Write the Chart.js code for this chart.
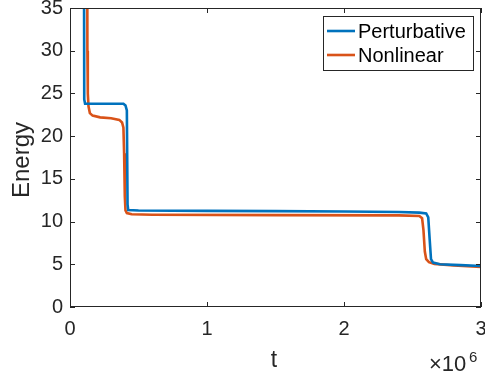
<!DOCTYPE html>
<html>
<head>
<meta charset="utf-8">
<script src="https://cdn.jsdelivr.net/npm/chart.js@4.4.1/dist/chart.umd.min.js"></script>
<style>
  html, body { margin: 0; padding: 0; background: #fff; }
  canvas { display: block; }
</style>
</head>
<body>
<canvas id="chart" width="485" height="381"></canvas>
<script>
// values (t in units of 1, energy)
const tPerturbative = [100000, 104000, 110000, 390000, 405000, 415000, 420000, 425000, 500000, 1000000, 1500000, 2000000, 2400000, 2550000, 2600000, 2615000, 2625000, 2635000, 2650000, 2700000, 2850000, 3000000];
const ePerturbative = [60, 24.3, 23.8, 23.8, 23.6, 23.0, 12.0, 11.35, 11.3, 11.25, 11.22, 11.18, 11.12, 11.05, 10.95, 10.5, 8.0, 5.6, 5.2, 5.0, 4.9, 4.8];

const tNonlinear = [124000, 127000, 130000, 135000, 145000, 165000, 220000, 300000, 360000, 380000, 390000, 395000, 400000, 405000, 415000, 450000, 600000, 1500000, 2400000, 2550000, 2570000, 2580000, 2590000, 2600000, 2620000, 2660000, 2800000, 3000000];
const eNonlinear = [60, 30, 25, 23.5, 22.7, 22.4, 22.2, 22.1, 21.9, 21.6, 21.0, 18, 13, 11.3, 11.0, 10.85, 10.8, 10.75, 10.72, 10.65, 10.4, 9.0, 6.5, 5.6, 5.25, 5.05, 4.85, 4.7];

const seriesNames = ["Perturbative", "Nonlinear"];
const xTickValues = [0, 1000000, 2000000, 3000000];
const yTickValues = [0, 5, 10, 15, 20, 25, 30, 35];

const axisColor = "#262626";
const fontFamily = "'Liberation Sans', Arial, Helvetica, sans-serif";

function toPoints(ts, es) {
  return ts.map((t, i) => ({ x: t, y: es[i] }));
}

// box, inward ticks, axis titles, exponent and legend, MATLAB style
const matlabAxes = {
  id: "matlabAxes",
  afterDraw(chart) {
    const ctx = chart.ctx;
    const a = chart.chartArea;
    const xs = chart.scales.x;
    const ys = chart.scales.y;
    ctx.save();
    ctx.strokeStyle = axisColor;
    ctx.lineWidth = 1;
    ctx.beginPath();
    xTickValues.forEach((v) => {
      const px = Math.round(xs.getPixelForValue(v)) + 0.5;
      ctx.moveTo(px, a.bottom);
      ctx.lineTo(px, a.bottom - 5);
      ctx.moveTo(px, a.top);
      ctx.lineTo(px, a.top + 5);
    });
    yTickValues.forEach((v) => {
      const py = Math.round(ys.getPixelForValue(v)) + 0.5;
      ctx.moveTo(a.left, py);
      ctx.lineTo(a.left + 5, py);
      ctx.moveTo(a.right, py);
      ctx.lineTo(a.right - 5, py);
    });
    ctx.stroke();
    ctx.strokeRect(Math.round(a.left) + 0.5, Math.round(a.top) + 0.5,
      Math.round(a.right - a.left) - 1, Math.round(a.bottom - a.top) - 1);

    // axis titles
    ctx.fillStyle = axisColor;
    ctx.textAlign = "center";
    ctx.textBaseline = "alphabetic";
    ctx.font = "23px " + fontFamily;
    ctx.fillText("t", 274, 367);
    ctx.font = "24px " + fontFamily;
    ctx.save();
    ctx.translate(29, 160);
    ctx.rotate(-Math.PI / 2);
    ctx.fillText("Energy", 0, 0);
    ctx.restore();

    // exponent
    ctx.font = "22px " + fontFamily;
    ctx.textAlign = "left";
    ctx.fillText("\u00d710", 429, 371);
    ctx.font = "15px " + fontFamily;
    ctx.fillText("6", 469, 362);

    // legend
    const lx = 323, ly = 16, lw = 150, lh = 54;
    ctx.fillStyle = "#fff";
    ctx.fillRect(lx, ly, lw, lh);
    ctx.strokeStyle = axisColor;
    ctx.strokeRect(lx + 0.5, ly + 0.5, lw, lh);
    ctx.font = "20px " + fontFamily;
    ctx.textBaseline = "middle";
    chart.data.datasets.forEach((ds, i) => {
      const yy = 31 + i * 24;
      ctx.strokeStyle = ds.borderColor;
      ctx.lineWidth = 2.6;
      ctx.beginPath();
      ctx.moveTo(327, yy);
      ctx.lineTo(355, yy);
      ctx.stroke();
      ctx.fillStyle = "#000";
      ctx.fillText(ds.label, 358, yy + 1);
    });
    ctx.restore();
  }
};

function noPadding(scale) {
  scale.paddingTop = 0;
  scale.paddingBottom = 0;
  scale.paddingLeft = 0;
  scale.paddingRight = 0;
}

new Chart(document.getElementById("chart"), {
  type: "line",
  data: {
    datasets: [
      {
        label: seriesNames[0],
        data: toPoints(tPerturbative, ePerturbative),
        borderColor: "#0072BD",
        borderWidth: 2.6,
        pointRadius: 0,
        tension: 0,
        clip: 0,
      },
      {
        label: seriesNames[1],
        data: toPoints(tNonlinear, eNonlinear),
        borderColor: "#D95319",
        borderWidth: 2.6,
        pointRadius: 0,
        tension: 0,
        clip: 0,
      },
    ],
  },
  options: {
    responsive: false,
    animation: false,
    devicePixelRatio: 1,
    layout: { padding: { left: 0, top: 8, right: 4, bottom: 0 } },
    plugins: {
      legend: { display: false },
      tooltip: { enabled: false },
    },
    scales: {
      x: {
        type: "linear",
        min: 0,
        max: 3000000,
        afterFit(scale) {
          scale.height = 74;
          noPadding(scale);
        },
        afterBuildTicks(scale) {
          scale.ticks = xTickValues.map((v) => ({ value: v }));
        },
        grid: { display: false, drawTicks: false },
        border: { display: false },
        ticks: {
          padding: 10,
          color: axisColor,
          font: { family: fontFamily, size: 20 },
          maxRotation: 0,
          callback: (v) => String(v / 1000000),
        },
      },
      y: {
        type: "linear",
        min: 0,
        max: 35,
        afterFit(scale) {
          scale.width = 70;
          noPadding(scale);
        },
        afterBuildTicks(scale) {
          scale.ticks = yTickValues.map((v) => ({ value: v }));
        },
        grid: { display: false, drawTicks: false },
        border: { display: false },
        ticks: {
          padding: 7,
          color: axisColor,
          font: { family: fontFamily, size: 20 },
        },
      },
    },
  },
  plugins: [matlabAxes],
});
</script>
</body>
</html>
